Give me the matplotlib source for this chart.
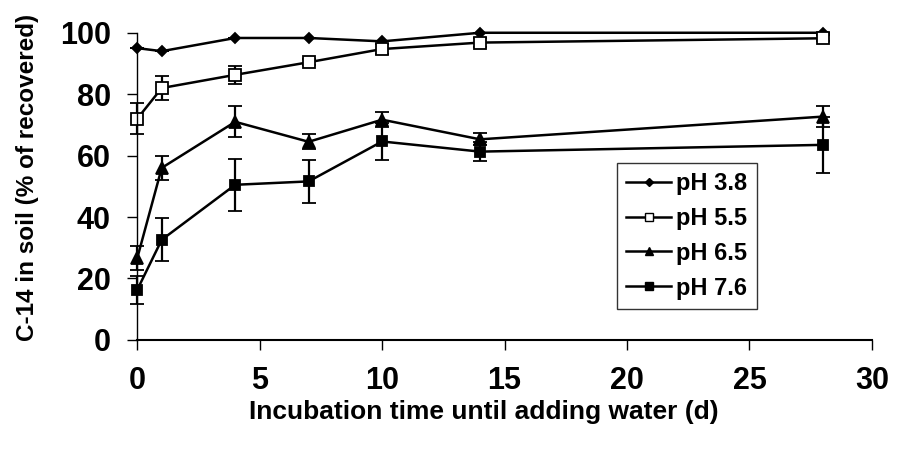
import numpy as np
import matplotlib
matplotlib.use("Agg")
import matplotlib.pyplot as plt
from matplotlib.lines import Line2D

# incubation days and C-14 retained in soil per pH level
days = [0, 1, 4, 7, 10, 14, 28]

ph38 = [95, 94, 98.3, 98.3, 97.2, 100, 100]
ph38_err = [0, 0, 0, 0, 0, 0, 0]

ph55 = [72, 82, 86.3, 90.4, 94.7, 96.8, 98.2]
ph55_err = [5, 4, 3, 1, 1.5, 1.5, 1]

ph65 = [26.6, 56, 71, 64.5, 71.7, 65.3, 72.7]
ph65_err = [4, 4, 5, 2.5, 2.5, 2, 3.5]

ph76 = [16.3, 32.6, 50.5, 51.6, 64.6, 61.3, 63.5]
ph76_err = [4.5, 7, 8.5, 7, 6, 3, 9]

labels = ["pH 3.8", "pH 5.5", "pH 6.5", "pH 7.6"]

plt.rcParams['font.family'] = ['Liberation Sans', 'DejaVu Sans']
plt.rcParams['font.weight'] = 'bold'

fig = plt.figure(figsize=(8.97, 4.55), dpi=100)
ax = fig.add_axes([0.153, 0.253, 0.819, 0.675])

styles = [
    (ph38, ph38_err, 'D', 'black', 5),
    (ph55, ph55_err, 's', 'white', 8),
    (ph65, ph65_err, '^', 'black', 8),
    (ph76, ph76_err, 's', 'black', 7),
]
handles = []
for (vals, err, mk, fc, ms), lab in zip(styles, labels):
    eb = ax.errorbar(days, vals, yerr=err, color='black', lw=1.8, marker=mk,
                     markerfacecolor=fc, markeredgecolor='black', markeredgewidth=1.3,
                     markersize=ms, capsize=5, elinewidth=1.6, capthick=1.6)
    for art in eb.lines[0:1] + tuple(eb.lines[1]) + tuple(eb.lines[2]):
        art.set_clip_on(False)
    handles.append(Line2D([], [], color='black', lw=1.8, marker=mk, markerfacecolor=fc,
                          markeredgecolor='black', markeredgewidth=1.0,
                          markersize=ms * 0.8, label=lab))

ax.set_xlim(0, 30)
ax.set_ylim(0, 100)
ax.set_xticks(range(0, 31, 5))
ax.set_yticks(range(0, 101, 20))
ax.spines['top'].set_visible(False)
ax.spines['right'].set_visible(False)
ax.spines['left'].set_linewidth(1.0)
ax.spines['bottom'].set_linewidth(1.5)
ax.tick_params(axis='both', direction='out', length=7, width=1, labelsize=22, pad=12)
for t in ax.get_xticklabels() + ax.get_yticklabels():
    t.set_fontweight('bold')

ax.set_xlabel("Incubation time until adding water (d)", fontsize=19, fontweight='bold')
ax.set_ylabel("C-14 in soil (% of recovered)", fontsize=17.5, fontweight='bold')
ax.xaxis.set_label_coords(0.472, -0.235)
ax.yaxis.set_label_coords(-0.15, 0.528)
ax.xaxis.label.set_va('center')
ax.yaxis.label.set_va('center')

leg = ax.legend(handles=handles, loc='upper left', bbox_to_anchor=(0.653, 0.577), fontsize=17,
                frameon=True, fancybox=False, handlelength=1.9, handletextpad=0.2,
                labelspacing=0.5, borderpad=0.4, borderaxespad=0)
leg.get_frame().set_edgecolor('black')
leg.get_frame().set_linewidth(1.0)
for t in leg.get_texts():
    t.set_fontweight('bold')

fig.savefig("out.png", dpi=100)
